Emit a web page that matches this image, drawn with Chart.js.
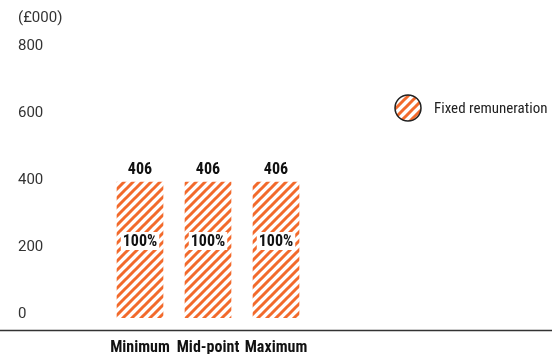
<!DOCTYPE html>
<html>
<head>
<meta charset="utf-8">
<script src="https://cdn.jsdelivr.net/npm/chart.js@4.4.1/dist/chart.umd.min.js"></script>
<style>
    html, body { margin: 0; padding: 0; background: #fff; }
    #wrap { width: 552px; height: 354px; position: relative; }
</style>
</head>
<body>
<div id="wrap"><canvas id="payChart"></canvas></div>
<script>
// chart values
const categories = ['Minimum', 'Mid-point', 'Maximum'];
const fixedValues = [406, 406, 406];
const fixedShare = [100, 100, 100];
const yTicks = [0, 200, 400, 600, 800];
const unitLabel = '(£000)';
const seriesName = 'Fixed remuneration';

const orange = '#f26a2c';
const narrow = '"Liberation Sans Narrow", "Roboto Condensed", Arial, sans-serif';

// diagonal stripe fill
function makeStripes() {
    const n = 9;
    const tile = document.createElement('canvas');
    tile.width = n;
    tile.height = n;
    const t = tile.getContext('2d');
    t.fillStyle = '#fff';
    t.fillRect(0, 0, n, n);
    t.strokeStyle = orange;
    t.lineWidth = 3;
    t.beginPath();
    t.moveTo(-2, n + 2); t.lineTo(n + 2, -2);
    t.moveTo(-2, 2); t.lineTo(2, -2);
    t.moveTo(n - 2, n + 2); t.lineTo(n + 2, n - 2);
    t.stroke();
    return document.getElementById('payChart').getContext('2d').createPattern(tile, 'repeat');
}
const stripes = makeStripes();

// labels, legend, axis line
const extras = {
    id: 'extras',
    afterDatasetsDraw(chart) {
        const ctx = chart.ctx;
        const meta = chart.getDatasetMeta(0);
        const area = chart.chartArea;
        ctx.save();

        meta.data.forEach((bar, i) => {
            ctx.font = 'bold 16px ' + narrow;
            ctx.fillStyle = '#111';
            ctx.textAlign = 'center';
            ctx.textBaseline = 'middle';
            ctx.fillText(String(fixedValues[i]), bar.x, bar.y - 12);

            const mid = (bar.y + bar.base) / 2 - 9;
            const txt = fixedShare[i] + '%';
            const w = ctx.measureText(txt).width + 4;
            ctx.fillStyle = '#fff';
            ctx.fillRect(bar.x - w / 2, mid - 9, w, 18);
            ctx.fillStyle = '#111';
            ctx.fillText(txt, bar.x, mid + 1);
        });

        // unit label
        ctx.font = '15px Roboto, Arial, sans-serif';
        ctx.fillStyle = '#333';
        ctx.textAlign = 'left';
        ctx.textBaseline = 'middle';
        ctx.fillText(unitLabel, 18, 18);

        // legend
        ctx.beginPath();
        ctx.arc(408, 108, 13, 0, Math.PI * 2);
        ctx.fillStyle = stripes;
        ctx.fill();
        ctx.lineWidth = 1.5;
        ctx.strokeStyle = '#222';
        ctx.stroke();
        ctx.font = '15px ' + narrow;
        ctx.fillStyle = '#222';
        ctx.fillText(seriesName, 434, 109);

        // baseline
        ctx.beginPath();
        ctx.moveTo(0, area.bottom + 12.5);
        ctx.lineTo(chart.width, area.bottom + 12.5);
        ctx.lineWidth = 1.5;
        ctx.strokeStyle = '#333';
        ctx.stroke();
        ctx.restore();
    }
};

new Chart(document.getElementById('payChart'), {
    type: 'bar',
    data: {
        labels: categories,
        datasets: [{
            label: seriesName,
            data: fixedValues,
            backgroundColor: stripes,
            borderWidth: 0,
            barThickness: 46
        }]
    },
    options: {
        responsive: true,
        maintainAspectRatio: false,
        animation: false,
        layout: { padding: { left: 18, right: 242, top: 50, bottom: 0 } },
        plugins: { legend: { display: false }, tooltip: { enabled: false } },
        scales: {
            x: {
                grid: { display: false, drawTicks: false },
                border: { display: false },
                ticks: {
                    padding: 20,
                    maxRotation: 0,
                    minRotation: 0,
                    autoSkip: false,
                    color: '#111',
                    font: { family: narrow, size: 16, weight: 'bold' }
                },
                afterFit(scale) { scale.height = 36; }
            },
            y: {
                min: 0,
                max: 800,
                afterBuildTicks(scale) { scale.ticks = yTicks.map(v => ({ value: v })); },
                grid: { display: false, drawTicks: false },
                border: { display: false },
                ticks: {
                    crossAlign: 'far',
                    labelOffset: -4,
                    color: '#333',
                    font: { family: 'Roboto, Arial, sans-serif', size: 15 }
                },
                afterFit(scale) { scale.width = 88; }
            }
        }
    },
    plugins: [extras]
});
</script>
</body>
</html>
